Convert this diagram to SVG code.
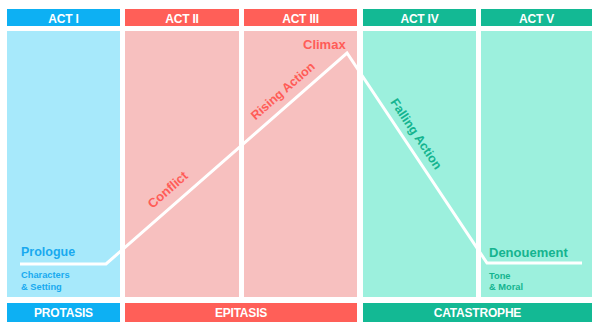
<svg xmlns="http://www.w3.org/2000/svg" width="592" height="322" viewBox="0 0 592 322">
<style>
.hd{font-family:"Liberation Sans",Arial,sans-serif;font-weight:bold;font-size:12px;fill:#fff;text-anchor:middle;letter-spacing:-0.2px}
.lb{font-family:"Liberation Sans",Arial,sans-serif;font-weight:bold}
.blueH{fill:#0db0f3}.blueB{fill:#a7e9fb}
.redH{fill:#ff5f58}.redB{fill:#f7c0bf}
.tealH{fill:#13b994}.tealB{fill:#9cf0dd}
.tb{fill:#19a9ef}.tr{fill:#ff5c57}.tt{fill:#14b48f}
</style>
<rect width="592" height="322" fill="#fff"/>
<g id="act1">
<rect class="blueH" x="7" y="9" width="113" height="17"/>
<rect class="blueB" x="7" y="31" width="113" height="266"/>
<text class="hd" x="63.5" y="22.5">ACT I</text>
</g>
<g id="act2">
<rect class="redH" x="125" y="9" width="114" height="17"/>
<rect class="redB" x="125" y="31" width="114" height="266"/>
<text class="hd" x="182" y="22.5">ACT II</text>
</g>
<g id="act3">
<rect class="redH" x="244" y="9" width="113" height="17"/>
<rect class="redB" x="244" y="31" width="113" height="266"/>
<text class="hd" x="300.5" y="22.5">ACT III</text>
</g>
<g id="act4">
<rect class="tealH" x="363" y="9" width="113" height="17"/>
<rect class="tealB" x="363" y="31" width="113" height="266"/>
<text class="hd" x="419.5" y="22.5">ACT IV</text>
</g>
<g id="act5">
<rect class="tealH" x="481" y="9" width="111" height="17"/>
<rect class="tealB" x="481" y="31" width="111" height="266"/>
<text class="hd" x="536.5" y="22.5">ACT V</text>
</g>
<g id="protasis">
<rect class="blueH" x="7" y="303" width="113" height="19"/>
<text class="hd" x="63.5" y="317.3">PROTASIS</text>
</g>
<g id="epitasis">
<rect class="redH" x="125" y="303" width="232" height="19"/>
<text class="hd" x="241" y="317.3">EPITASIS</text>
</g>
<g id="catastrophe">
<rect class="tealH" x="363" y="303" width="229" height="19"/>
<text class="hd" x="477.5" y="317.3">CATASTROPHE</text>
</g>
<g id="connectors">
<polyline points="20,264 106,264 347,53 487,263 582,263" fill="none" stroke="#fff" stroke-width="3" stroke-linejoin="miter"/>
</g>
<g id="labels">
<text class="lb tb" x="21" y="255.5" font-size="12.5">Prologue</text>
<text class="lb tb" x="21" y="278" font-size="9.3">Characters</text>
<text class="lb tb" x="21" y="290" font-size="9.3">&amp; Setting</text>
<text class="lb tt" x="489" y="256.5" font-size="13">Denouement</text>
<text class="lb tt" x="489" y="278.5" font-size="9.3">Tone</text>
<text class="lb tt" x="489" y="290" font-size="9.3">&amp; Moral</text>
<text class="lb tr" x="303" y="49" font-size="13">Climax</text>
<text class="lb tr" font-size="13" text-anchor="middle" transform="translate(170.6,193) rotate(-41.2)">Conflict</text>
<text class="lb tr" font-size="12.5" text-anchor="middle" transform="translate(285.6,94) rotate(-41.2)">Rising Action</text>
<text class="lb tt" font-size="12.5" text-anchor="middle" transform="translate(412.7,136.2) rotate(56.3)">Falling Action</text>
</g>
</svg>
